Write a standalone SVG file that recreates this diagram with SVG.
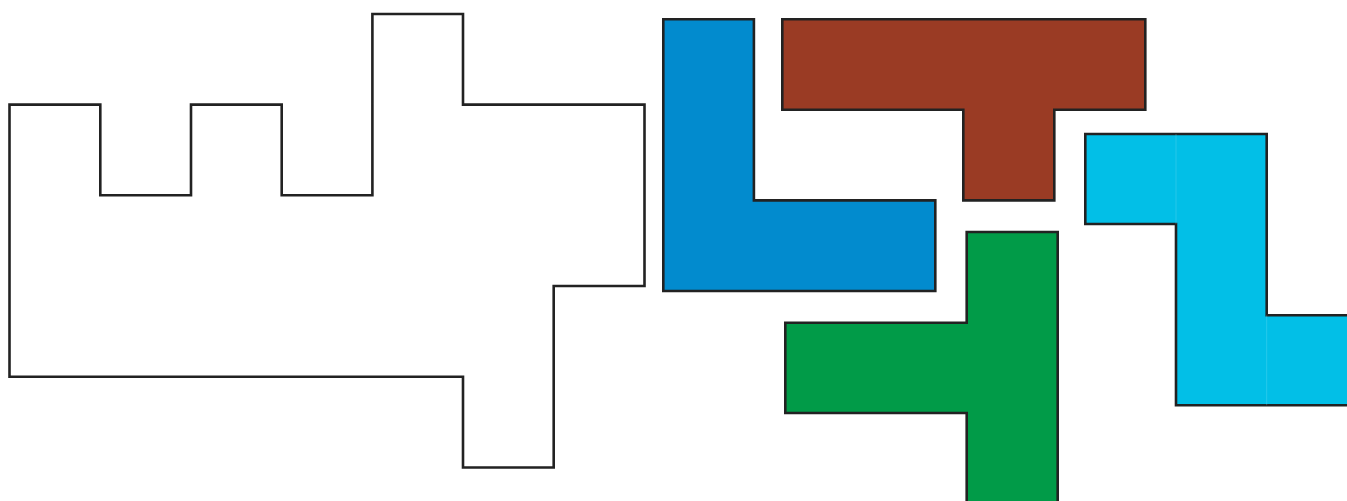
<svg xmlns="http://www.w3.org/2000/svg" width="1347" height="501" viewBox="0 0 1347 501">
<style>
.p{stroke:#222;stroke-width:2.6;stroke-linejoin:miter}
.g{fill:none;stroke-width:0.8;stroke-opacity:0.35}
</style>
<rect width="1347" height="501" fill="#fff"/>
<g id="outline">
<path class="p" fill="#fff" d="M9.5,104.6 H100.3 V195.3 H191 V104.6 H281.7 V195.3 H372.4 V14 H463 V104.6 H644.5 V286 H553.7 V467.5 H463 V376.8 H9.5 Z"/>
</g>
<g id="blue-l">
<path class="p" fill="#028BCE" d="M663.3,19.3 H753.9 V200.4 H935.3 V291 H663.3 Z"/>
</g>
<g id="brown-t">
<path class="p" fill="#9A3B24" d="M782.3,19.3 H1145.3 V109.8 H1054.3 V200.4 H963.3 V109.8 H782.3 Z"/>
</g>
<g id="cyan-z">
<path class="p" fill="#02BFE7" d="M1085.3,134 H1266.7 V315.3 H1360 V405.3 H1176 V224 H1085.3 Z"/>
<path class="g" stroke="#8fe3f5" d="M1176,134 V224 M1266.7,315.3 V405.3"/>
</g>
<g id="green-t">
<path class="p" fill="#019B48" d="M966.7,232 H1057.7 V510 H966.7 V413 H785.3 V322.7 H966.7 Z"/>
</g>
</svg>
